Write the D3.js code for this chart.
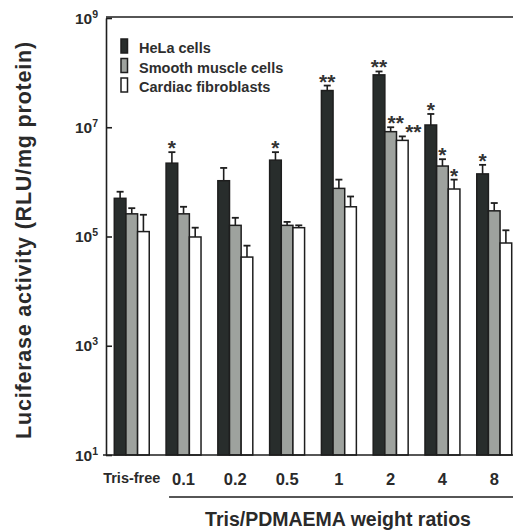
<!DOCTYPE html>
<html lang="en">
<head>
<meta charset="UTF-8">
<title>Luciferase activity</title>
<script src="https://cdn.jsdelivr.net/npm/d3@7"></script>
<style>
  body { margin: 0; background: #fff; }
  svg { display: block; font-family: "Liberation Sans", Arial, sans-serif; font-weight: bold; }
</style>
</head>
<body>
<script>
// data
const ratios = ["Tris-free", "0.1", "0.2", "0.5", "1", "2", "4", "8"]
const cellTypes = ["HeLa cells", "Smooth muscle cells", "Cardiac fibroblasts"]
const hela = [5.0e5, 2.2e6, 1.05e6, 2.5e6, 4.7e7, 9.1e7, 1.1e7, 1.4e6]
const helaErr = [6.6e5, 3.5e6, 1.8e6, 3.5e6, 5.8e7, 1.05e8, 1.75e7, 2.05e6]
const smc = [2.6e5, 2.6e5, 1.6e5, 1.6e5, 7.6e5, 8.3e6, 1.95e6, 2.95e5]
const smcErr = [3.3e5, 3.5e5, 2.2e5, 1.85e5, 1.1e6, 1.0e7, 2.6e6, 4.1e5]
const cf = [1.23e5, 9.8e4, 4.2e4, 1.45e5, 3.5e5, 5.75e6, 7.4e5, 7.6e4]
const cfErr = [2.5e5, 1.45e5, 6.8e4, 1.6e5, 5.4e5, 6.8e6, 1.1e6, 1.3e5]
const helaStars = ["", "*", "", "*", "**", "**", "*", "*"]
const smcStars = ["", "", "", "", "", "**", "*", ""]
const cfStars = ["", "", "", "", "", "**", "*", ""]
const yTicks = [1e1, 1e3, 1e5, 1e7, 1e9]

const w = 513, h = 530
const pLeft = 106, pTop = 18, pBottom = 455, pRight = 520
const fills = ["#282d2c", "#9ea29e", "#ffffff"]
const ink = "#1e1e1e"

const series = [
  {vals: hela, err: helaErr, stars: helaStars},
  {vals: smc, err: smcErr, stars: smcStars},
  {vals: cf, err: cfErr, stars: cfStars}
]

const svg = d3.select("body").append("svg").attr("width", w).attr("height", h)

const x0 = d3.scaleBand().domain(ratios).range([pLeft, pRight]).paddingInner(0.325).paddingOuter(0.16)
const x1 = d3.scaleBand().domain([0, 1, 2]).range([0, x0.bandwidth()])
const y = d3.scaleLog().domain([10, 1e9]).range([pBottom, pTop])

// frame
svg.append("line").attr("x1", pLeft).attr("x2", w).attr("y1", pTop - 1).attr("y2", pTop - 1)
  .attr("stroke", ink).attr("stroke-width", 1.6)

// bars
const groups = svg.append("g").selectAll("g").data(ratios).join("g")
  .attr("transform", d => `translate(${x0(d)},0)`)

groups.each(function (r, i) {
  const g = d3.select(this)
  // when two "**" sit side by side they are nudged right, like in the original
  const crowded = smcStars[i] === "**" && cfStars[i] === "**"
  series.forEach((s, k) => {
    const bx = x1(k), bw = x1.bandwidth(), cx = bx + bw / 2
    g.append("line").attr("x1", cx).attr("x2", cx)
      .attr("y1", y(s.vals[i])).attr("y2", y(s.err[i]))
      .attr("stroke", ink).attr("stroke-width", 1.6)
    g.append("line").attr("x1", cx - 3.5).attr("x2", cx + 3.5)
      .attr("y1", y(s.err[i])).attr("y2", y(s.err[i]))
      .attr("stroke", ink).attr("stroke-width", 1.8)
    g.append("rect").attr("x", bx).attr("width", bw)
      .attr("y", y(s.vals[i])).attr("height", pBottom - y(s.vals[i]))
      .attr("fill", fills[k]).attr("stroke", ink).attr("stroke-width", 1.5)
    if (s.stars[i]) {
      const dx = crowded && k > 0 ? (k === 1 ? 5 : 11) : 0
      g.append("text").attr("x", cx + dx).attr("y", y(s.err[i]) + 3)
        .attr("text-anchor", "middle").attr("font-size", 21).attr("fill", "#333")
        .text(s.stars[i])
    }
  })
})

// y axis
const yAxis = svg.append("g").attr("transform", `translate(${pLeft},0)`)
  .call(d3.axisLeft(y).tickValues(yTicks).tickSizeInner(-6).tickSizeOuter(0).tickFormat(""))
yAxis.select(".domain").attr("stroke", ink).attr("stroke-width", 1.6)
yAxis.selectAll(".tick line").attr("stroke", ink).attr("stroke-width", 1.6)
yAxis.selectAll(".tick").append("text")
  .attr("x", -8).attr("y", 5).attr("text-anchor", "end").attr("fill", "#2a2a2a")
  .each(function (d) {
    const t = d3.select(this)
    t.append("tspan").attr("font-size", 15.5).text("10")
    t.append("tspan").attr("font-size", 10.5).attr("dy", -6).text(Math.round(Math.log10(d)))
  })

// x axis
svg.append("line").attr("x1", pLeft - 3).attr("x2", w).attr("y1", pBottom).attr("y2", pBottom)
  .attr("stroke", ink).attr("stroke-width", 1.6)
const xAxis = svg.append("g").attr("transform", `translate(0,${pBottom})`)
  .call(d3.axisBottom(x0).tickSize(0).tickPadding(0))
xAxis.select(".domain").remove()
xAxis.selectAll(".tick text")
  .attr("dy", null).attr("y", d => d === "Tris-free" ? 28 : 30)
  .attr("font-size", d => d === "Tris-free" ? 14.5 : 16.5)
  .attr("font-family", "Liberation Sans, Arial, sans-serif")
  .attr("font-weight", "bold").attr("fill", "#2a2a2a")

svg.append("line").attr("x1", x0("0.1") + 3).attr("x2", w).attr("y1", 497).attr("y2", 497)
  .attr("stroke", ink).attr("stroke-width", 1.6)

svg.append("text").attr("x", 338).attr("y", 526).attr("text-anchor", "middle")
  .attr("font-size", 19.5).attr("fill", "#2a2a2a").text("Tris/PDMAEMA weight ratios")

svg.append("text").attr("transform", "translate(31,240) rotate(-90)")
  .attr("text-anchor", "middle").attr("font-size", 21.5).attr("letter-spacing", 0.8)
  .attr("fill", "#2a2a2a").text("Luciferase activity (RLU/mg protein)")

// legend
const legend = svg.append("g").attr("transform", "translate(121,39)")
cellTypes.forEach((name, k) => {
  legend.append("rect").attr("x", 0).attr("y", k * 19.5).attr("width", 6.5).attr("height", 14)
    .attr("fill", fills[k]).attr("stroke", ink).attr("stroke-width", 1.5)
  legend.append("text").attr("x", 18).attr("y", k * 19.5 + 14).attr("font-size", 14.5)
    .attr("fill", "#2e2e2e").text(name)
})
</script>
</body>
</html>
